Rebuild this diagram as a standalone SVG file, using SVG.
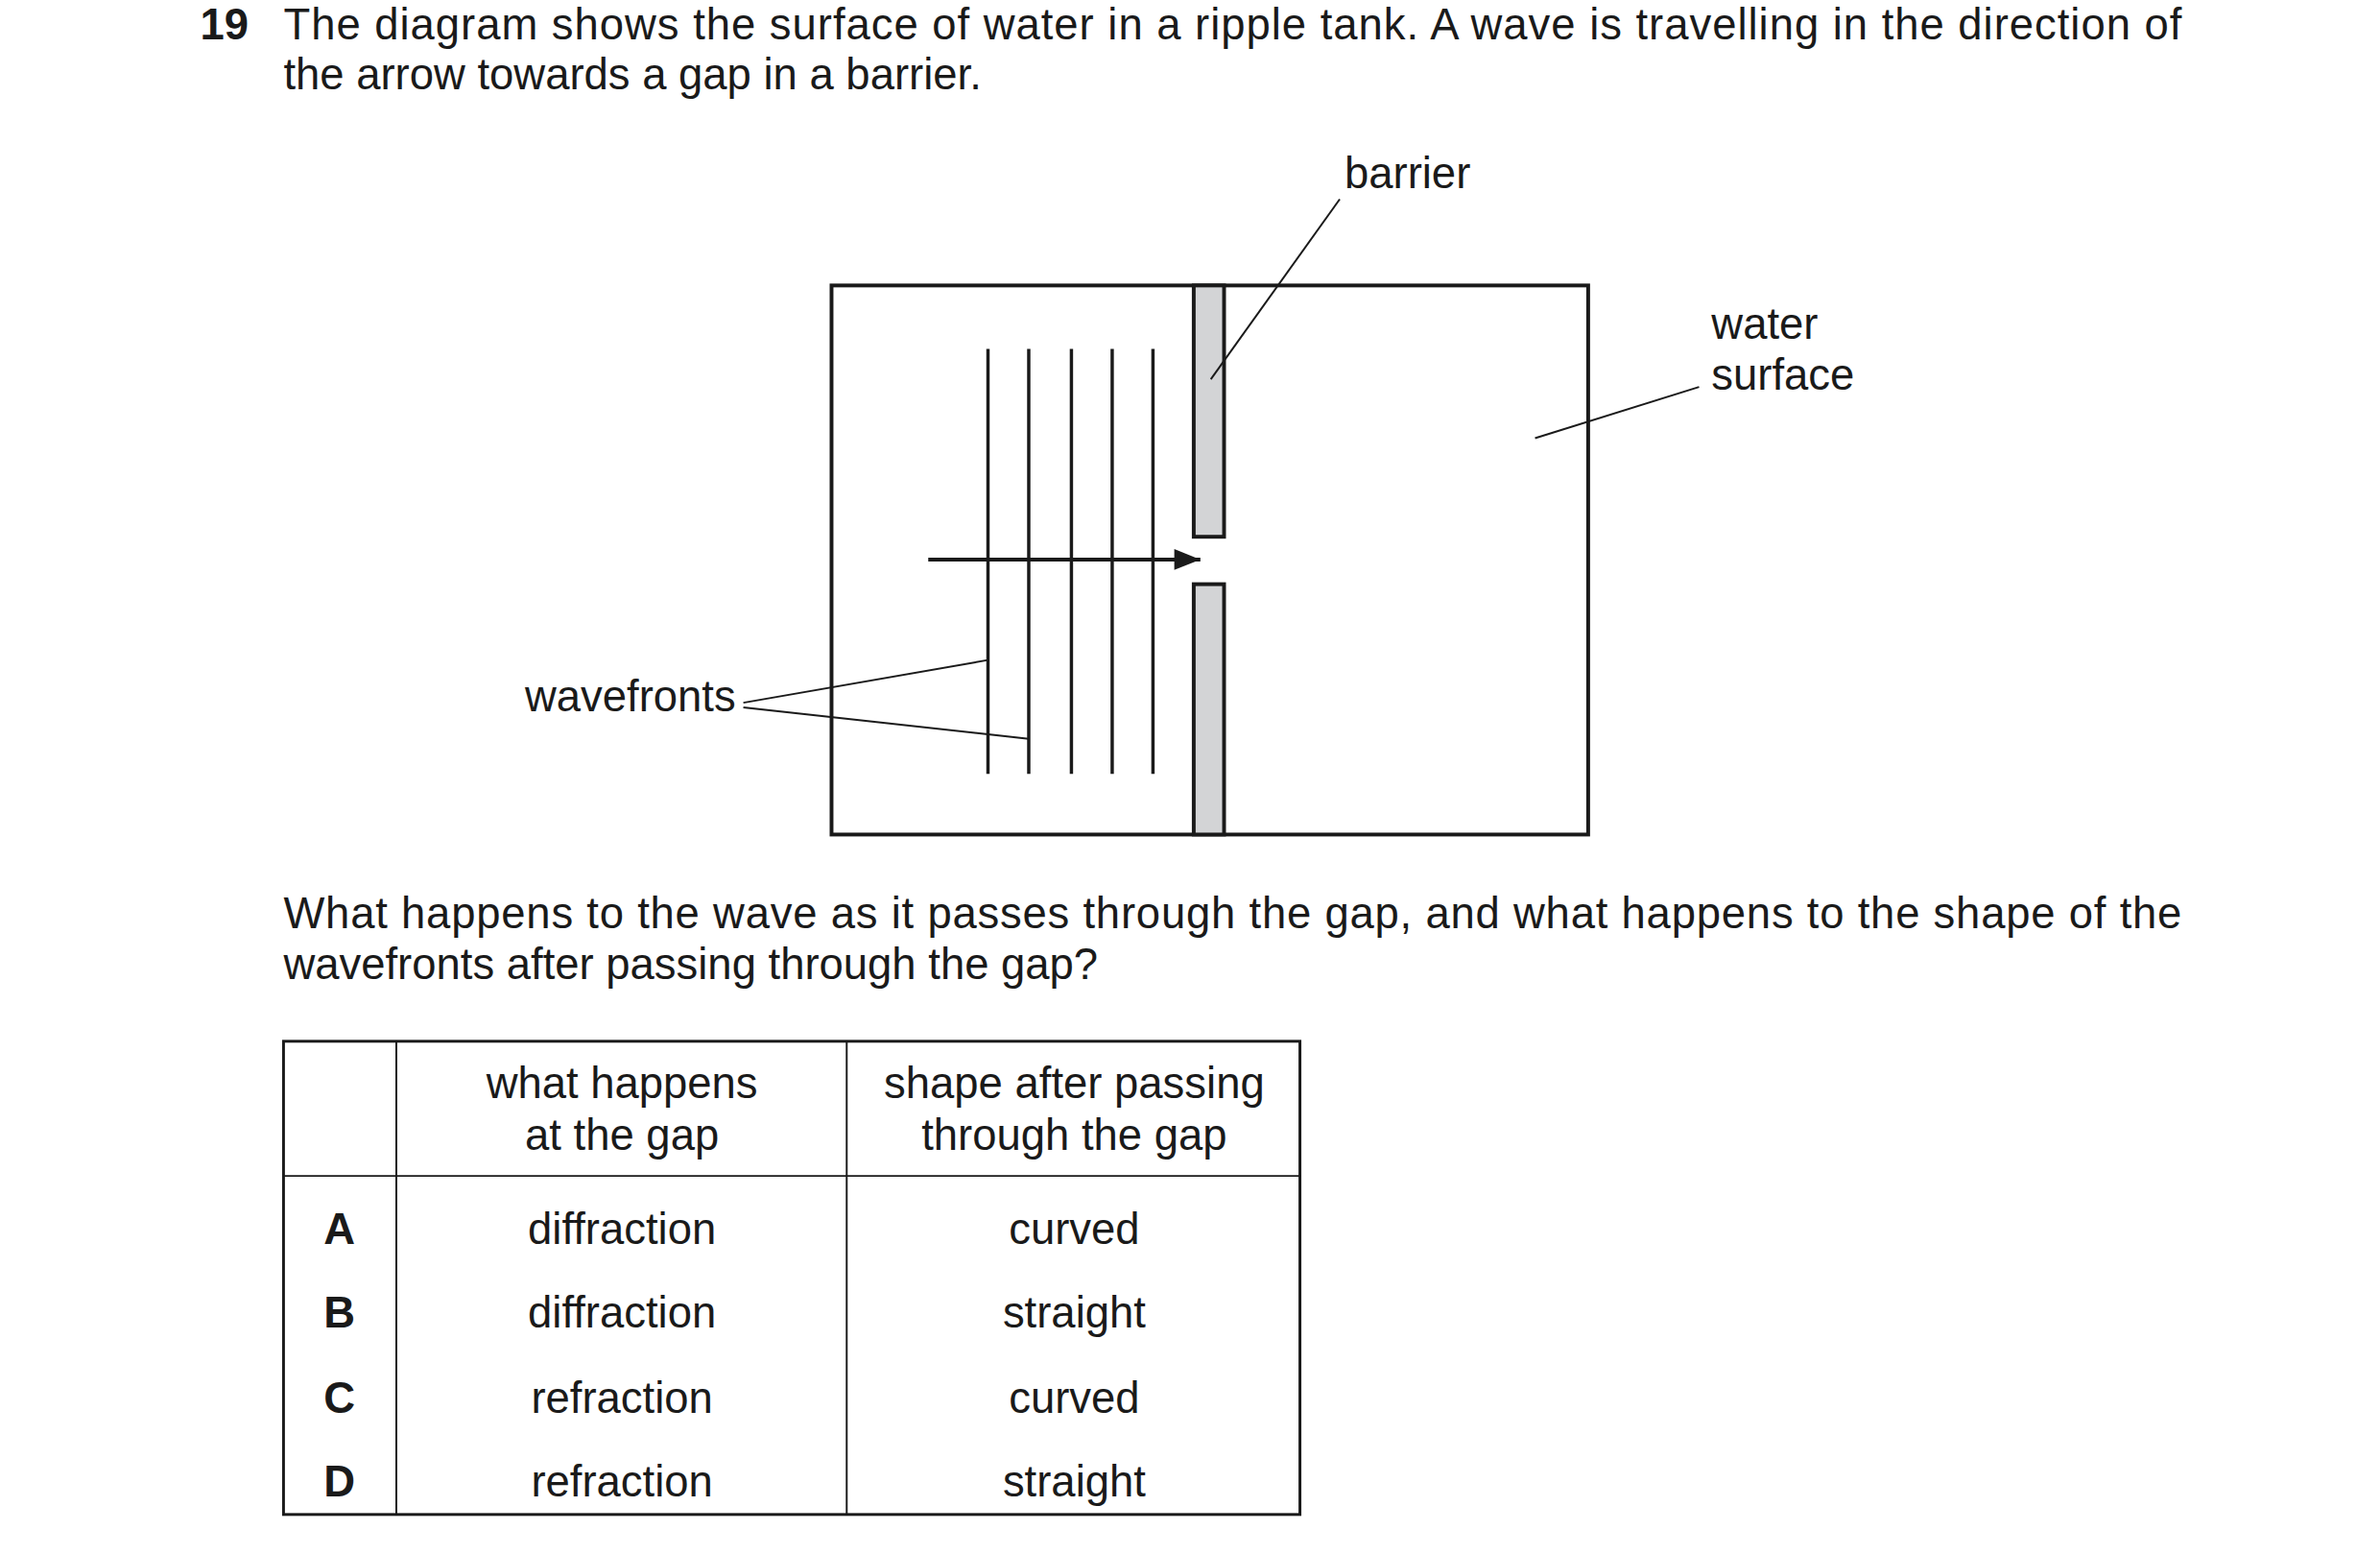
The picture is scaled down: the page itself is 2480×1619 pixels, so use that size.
<svg xmlns="http://www.w3.org/2000/svg" width="2480" height="1619" viewBox="0 0 2480 1619">
<style>
text{font-family:"Liberation Sans",Arial,sans-serif;font-size:46px;fill:#1a1a1a}
.b{font-weight:bold}
.m{text-anchor:middle}
.ln{stroke:#1a1a1a;stroke-width:2;fill:none}
.wf{stroke:#1a1a1a;stroke-width:3.5}
.bar{fill:#d3d4d6;stroke:#1a1a1a;stroke-width:4}
</style>
<defs>
<marker id="ah2" viewBox="0 0 10 8" markerWidth="34" markerHeight="22" refX="10" refY="4" orient="auto" markerUnits="userSpaceOnUse"><path d="M0,0 L10,4 L0,8 Z" fill="#1a1a1a"/></marker></defs>
<g transform="scale(0.988)">
<text class="b" x="211" y="42">19</text>
<text x="299" y="42" textLength="2002" lengthAdjust="spacing">The diagram shows the surface of water in a ripple tank. A wave is travelling in the direction of</text>
<text x="299" y="94">the arrow towards a gap in a barrier.</text>
<g id="tank"><rect x="877" y="301" width="798" height="579" fill="#fff" stroke="#1a1a1a" stroke-width="4"/></g>
<g id="barrier"><rect class="bar" x="1259" y="301" width="32" height="265"/><rect class="bar" x="1259" y="616" width="32" height="264"/></g>
<g id="wavefronts-lines">
<line class="wf" x1="1042" y1="368" x2="1042" y2="816"/><line class="wf" x1="1085" y1="368" x2="1085" y2="816"/><line class="wf" x1="1130" y1="368" x2="1130" y2="816"/><line class="wf" x1="1173" y1="368" x2="1173" y2="816"/><line class="wf" x1="1216" y1="368" x2="1216" y2="816"/>
</g>
<g id="connectors">
<line x1="979" y1="590" x2="1266" y2="590" stroke="#1a1a1a" stroke-width="4" marker-end="url(#ah2)"/>
<line class="ln" x1="1413" y1="210" x2="1277" y2="400"/>
<line class="ln" x1="1792" y1="408" x2="1619" y2="462"/>
<line class="ln" x1="784" y1="741" x2="1042" y2="696"/>
<line class="ln" x1="784" y1="746" x2="1085" y2="779"/>
</g>
<g id="labels">
<text x="1418" y="198">barrier</text>
<text x="1805" y="357">water</text>
<text x="1805" y="411">surface</text>
<text x="776" y="750" text-anchor="end">wavefronts</text>
</g>
<text x="299" y="979" textLength="2002" lengthAdjust="spacing">What happens to the wave as it passes through the gap, and what happens to the shape of the</text>
<text x="299" y="1032">wavefronts after passing through the gap?</text>
<g id="table">
<rect x="299" y="1098" width="1072" height="499" fill="none" stroke="#1a1a1a" stroke-width="3"/>
<line class="ln" x1="418" y1="1098" x2="418" y2="1597"/>
<line class="ln" x1="893" y1="1098" x2="893" y2="1597"/>
<line class="ln" x1="299" y1="1240" x2="1371" y2="1240"/>
<text class="m" x="656" y="1158">what happens</text><text class="m" x="656" y="1213">at the gap</text>
<text class="m" x="1133" y="1158">shape after passing</text><text class="m" x="1133" y="1213">through the gap</text>
<text class="m b" x="358" y="1312">A</text><text class="m" x="656" y="1312">diffraction</text><text class="m" x="1133" y="1312">curved</text>
<text class="m b" x="358" y="1400">B</text><text class="m" x="656" y="1400">diffraction</text><text class="m" x="1133" y="1400">straight</text>
<text class="m b" x="358" y="1490">C</text><text class="m" x="656" y="1490">refraction</text><text class="m" x="1133" y="1490">curved</text>
<text class="m b" x="358" y="1578">D</text><text class="m" x="656" y="1578">refraction</text><text class="m" x="1133" y="1578">straight</text>
</g>
</g>
</svg>
